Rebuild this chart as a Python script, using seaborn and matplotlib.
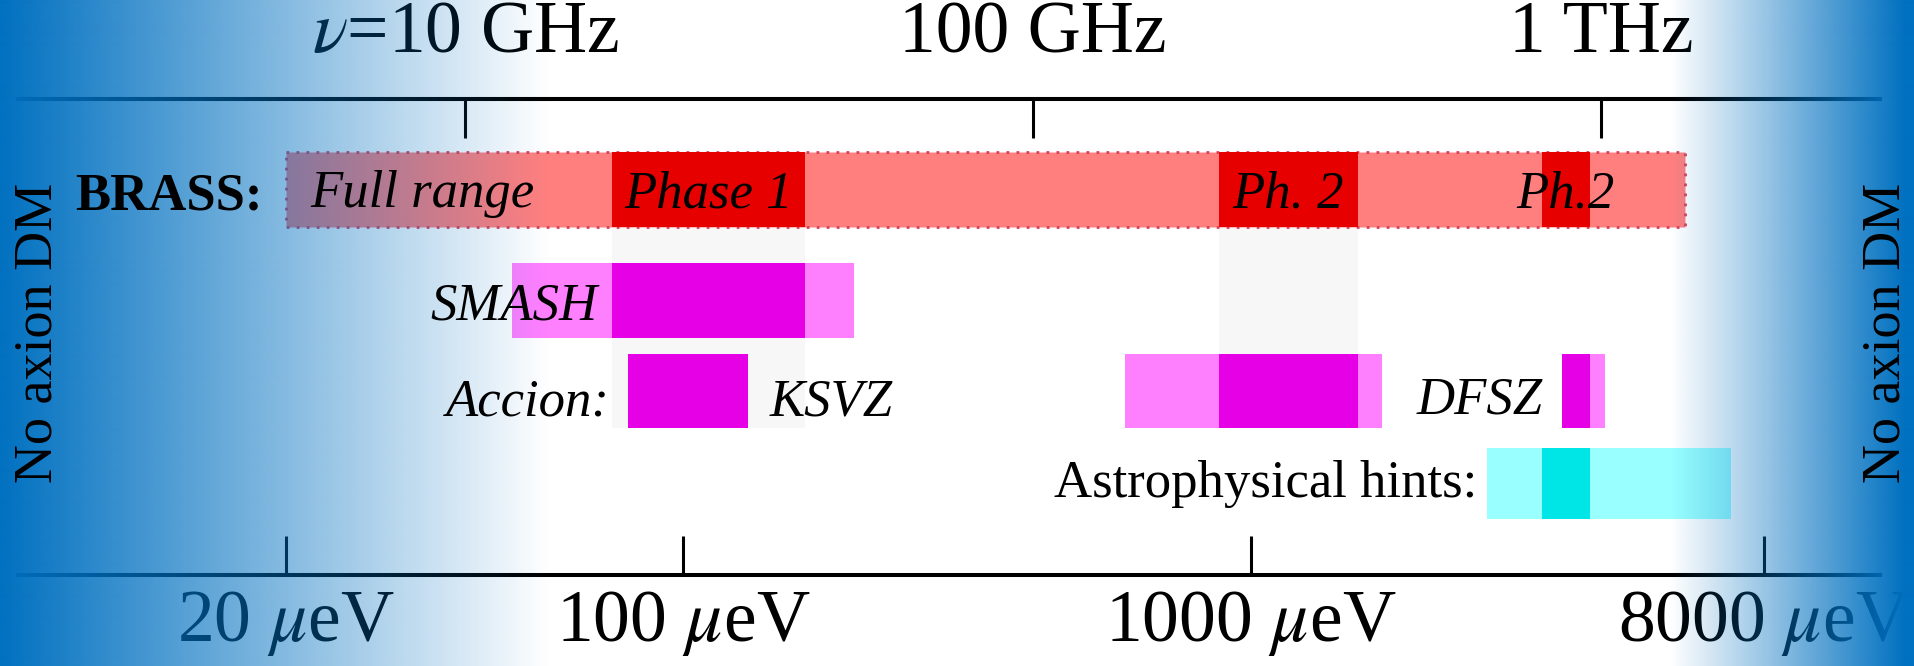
import numpy as np
import matplotlib
matplotlib.use("Agg")
import matplotlib.pyplot as plt
from matplotlib.colors import to_rgb
from matplotlib.ticker import NullLocator
import seaborn as sns

# ---------------- data (energies in micro-eV) ----------------
brass_full = [20, 5800]
phase_labels = ["Phase 1", "Ph. 2", "Ph.2"]
phase_lo = [75, 880, 3250]
phase_hi = [164, 1540, 3950]
phase_shaded = [True, True, False]

smash_range = [50, 200]
ksvz_range = [80, 130]
dfsz_lo = [600, 3530]
dfsz_hi = [1700, 4200]
astro_range = [2600, 7000]

energy_ticks = [20, 100, 1000, 8000]
energy_labels = [r"20 $\mu$eV", r"100 $\mu$eV", r"1000 $\mu$eV", r"8000 $\mu$eV"]
freq_ticks = [10, 100, 1000]  # GHz
freq_labels = [r"$\nu$=10 GHz", "100 GHz", "1 THz"]
UEV_PER_GHZ = 4.1357

# ---------------- colours ----------------
C_LRED, C_DRED = "#FF7F7F", "#E60000"
C_LMAG, C_DMAG = "#FF80FF", "#E600E6"
C_LCYAN, C_DCYAN = "#99FFFF", "#00E6E6"
C_GREY = "#F7F7F7"
C_BLUE = "#0070C0"

# ---------------- layout (pixels) ----------------
W, H, DPI = 1915, 666, 100
AX_L, AX_R, AX_T, AX_B = 18, 1880, 99, 575
PX_PER_DEC, PX_100 = 568.0, 683.0
ROW_Y = {"brass": 189.5, "smash": 300.5, "accion": 391.0, "astro": 483.5}
ROW_H = {"brass": 75, "smash": 75, "accion": 74, "astro": 71}
BAND_Y0, BAND_Y1 = 227, 428

sns.set_theme(style="white")
plt.rcParams["font.family"] = ["Liberation Serif", "DejaVu Serif"]
plt.rcParams["mathtext.fontset"] = "stix"

fig = plt.figure(figsize=(W / DPI, H / DPI), dpi=DPI)
fig.patch.set_facecolor("white")
rect = [AX_L / W, (H - AX_B) / H, (AX_R - AX_L) / W, (AX_B - AX_T) / H]
ax = fig.add_axes(rect, zorder=0)
ax.set_facecolor("white")
ax.set_xscale("log")
ax.set_xlim(100 * 10 ** ((AX_L - PX_100) / PX_PER_DEC),
            100 * 10 ** ((AX_R - PX_100) / PX_PER_DEC))
ax.set_ylim(AX_B, AX_T)


def hbar(row, lo, hi, color, z, **kw):
    ax.barh(ROW_Y[row], hi - lo, left=lo, height=ROW_H[row], color=color,
            zorder=z, **kw)


def overlaps(lo, hi):
    segs = []
    for plo, phi in zip(phase_lo, phase_hi):
        a, b = max(lo, plo), min(hi, phi)
        if a < b:
            segs.append((a, b))
    return segs


# grey bands below shaded phases
for plo, phi, sh in zip(phase_lo, phase_hi, phase_shaded):
    if sh:
        ax.barh((BAND_Y0 + BAND_Y1) / 2, phi - plo, left=plo,
                height=BAND_Y1 - BAND_Y0, color=C_GREY, zorder=1, linewidth=0)

# BRASS
hbar("brass", brass_full[0], brass_full[1], C_LRED, 2,
     edgecolor="#D8405A", linewidth=2.0, linestyle=(0, (1.0, 2.6)))
for plo, phi in zip(phase_lo, phase_hi):
    hbar("brass", plo, phi, C_DRED, 3, linewidth=0)

# SMASH
hbar("smash", smash_range[0], smash_range[1], C_LMAG, 2, linewidth=0)
for a, b in overlaps(*smash_range):
    hbar("smash", a, b, C_DMAG, 3, linewidth=0)

# Accion: KSVZ and DFSZ
hbar("accion", ksvz_range[0], ksvz_range[1], C_LMAG, 2, linewidth=0)
for a, b in overlaps(*ksvz_range):
    hbar("accion", a, b, C_DMAG, 3, linewidth=0)
for lo, hi in zip(dfsz_lo, dfsz_hi):
    hbar("accion", lo, hi, C_LMAG, 2, linewidth=0)
    for a, b in overlaps(lo, hi):
        hbar("accion", a, b, C_DMAG, 3, linewidth=0)

# Astrophysical hints
hbar("astro", astro_range[0], astro_range[1], C_LCYAN, 2, linewidth=0)
for a, b in overlaps(*astro_range):
    hbar("astro", a, b, C_DCYAN, 3, linewidth=0)

# axes styling
ax.set_yticks([])
for s in ("left", "right"):
    ax.spines[s].set_visible(False)
for s in ("top", "bottom"):
    ax.spines[s].set_visible(True)
    ax.spines[s].set_color("black")
    ax.spines[s].set_linewidth(2.9)
ax.set_xticks(energy_ticks, energy_labels)
ax.xaxis.set_minor_locator(NullLocator())
ax.tick_params(axis="x", which="major", direction="in", length=28, width=2.2,
               color="black", labelcolor="black", labelsize=53, pad=10,
               bottom=True, top=False, labelbottom=True, labeltop=False)

secax = ax.secondary_xaxis("top", functions=(lambda e: e / UEV_PER_GHZ,
                                              lambda f: f * UEV_PER_GHZ))
secax.set_xticks(freq_ticks, freq_labels)
secax.xaxis.set_minor_locator(NullLocator())
secax.tick_params(axis="x", which="major", direction="in", length=28, width=2.2,
                  color="black", labelcolor="black", labelsize=53, pad=22,
                  top=True, labeltop=True, bottom=False, labelbottom=False)
secax.spines["top"].set_linewidth(2.9)
secax.spines["top"].set_color("black")

# blue gradient overlay (over bars/axes, under text)
gax = fig.add_axes([0, 0, 1, 1], zorder=1)
gax.set_axis_off()
xs = np.arange(W) + 0.5
alpha = np.clip(np.maximum(1 - xs / 550.0, (xs - 1670.0) / (1905.0 - 1670.0)), 0, 1)
img = np.zeros((1, W, 4))
img[..., :3] = to_rgb(C_BLUE)
img[..., 3] = alpha
gax.imshow(img, extent=[0, 1, 0, 1], aspect="auto", interpolation="bilinear")
gax.set_xlim(0, 1)
gax.set_ylim(0, 1)

# text layer
tax = fig.add_axes(rect, zorder=2, sharex=ax, sharey=ax)
tax.set_axis_off()

K = 72.0 / DPI


def label(x, row, s, dx, dy, ha, **kw):
    tax.annotate(s, xy=(x, ROW_Y[row]), xytext=(dx * K, -dy * K),
                 textcoords="offset points", ha=ha, va="baseline",
                 fontsize=38, color="black", **kw)


label(brass_full[0], "brass", "BRASS:", -23, 20, "right", fontweight="bold")
label(brass_full[0], "brass", "Full range", 24, 18, "left", style="italic")
for name, plo, phi in zip(phase_labels, phase_lo, phase_hi):
    label(np.sqrt(plo * phi), "brass", name, 0, 18, "center", style="italic")
label(overlaps(*smash_range)[0][0], "smash", "SMASH", -15, 19.5, "right", style="italic")
label(ksvz_range[0], "accion", "Accion:", -18, 24, "right", style="italic")
label(ksvz_range[1], "accion", "KSVZ", 22, 24, "left", style="italic")
label(dfsz_lo[1], "accion", "DFSZ", -19, 22, "right", style="italic")
label(astro_range[0], "astro", "Astrophysical hints:", -9, 13.5, "right")

for xc in (38.5, 1886):
    fig.text(xc / W, 0.5, "No axion DM", rotation=90, ha="center", va="center",
             fontsize=39, color="black", zorder=10)

fig.savefig("out.png", dpi=DPI)
